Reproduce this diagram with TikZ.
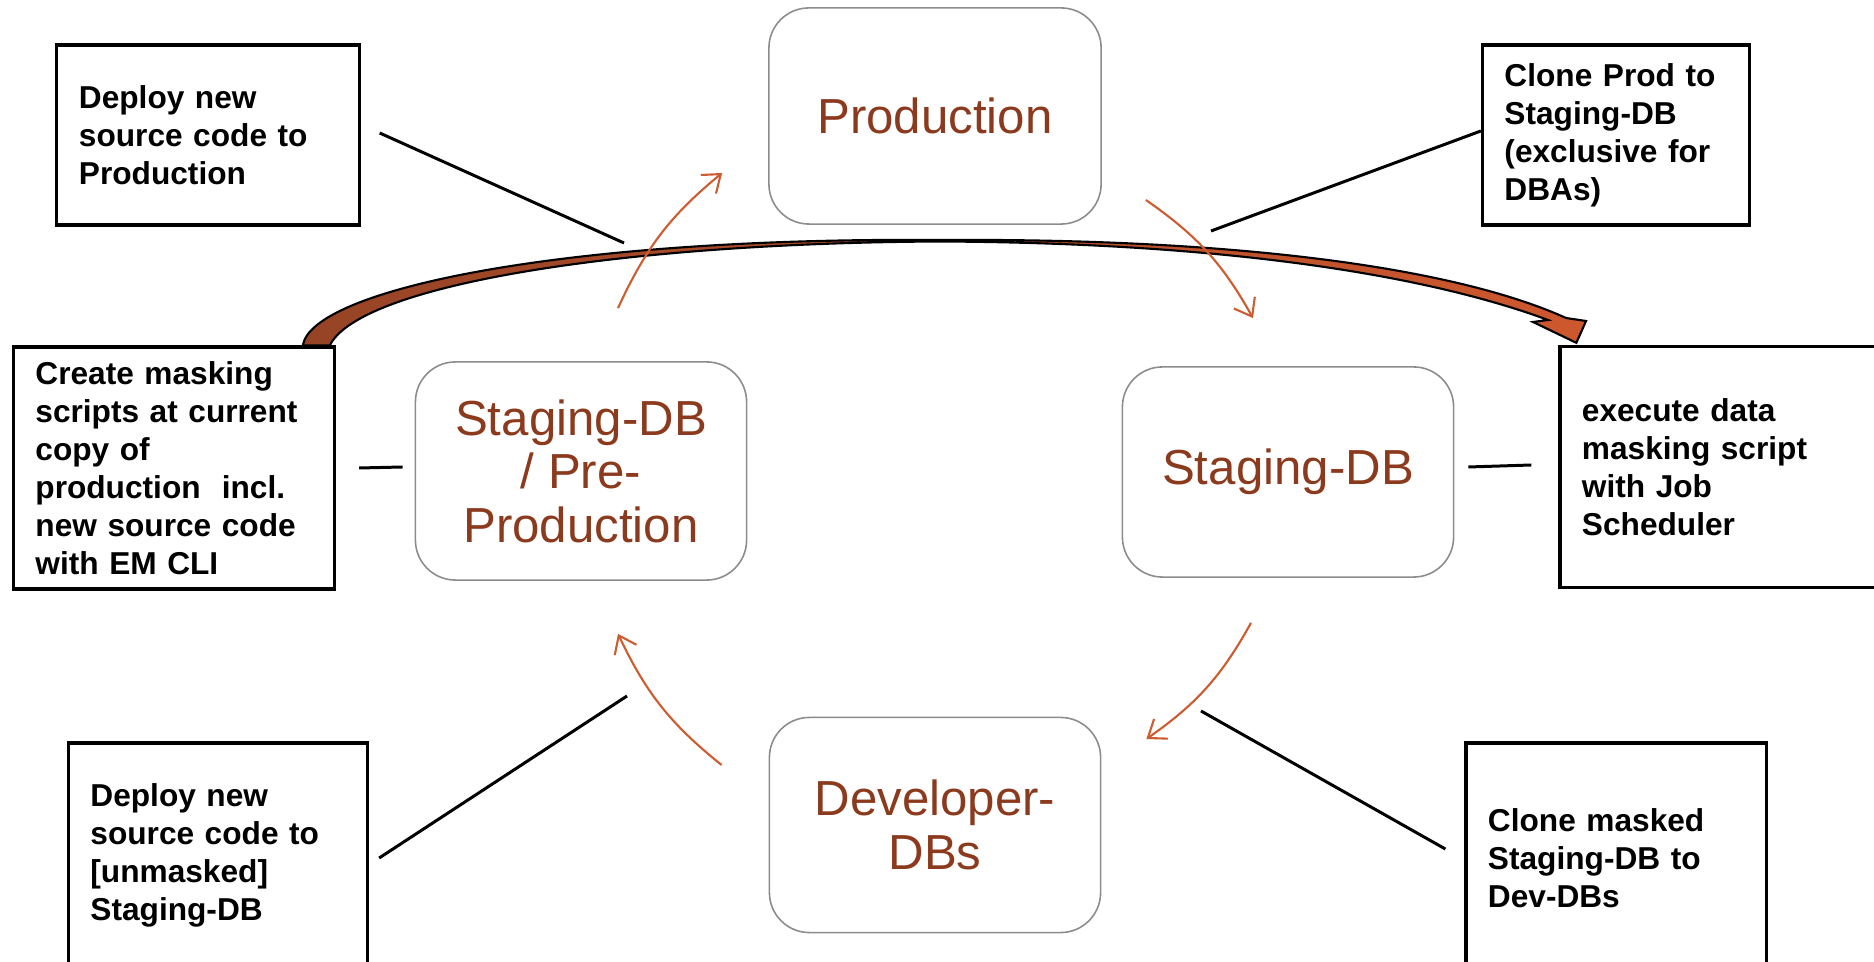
\documentclass[tikz,border=0pt]{standalone}
\usepackage{fontspec}
\setmainfont{Liberation Sans}
\usepackage{tikz}
\usetikzlibrary{arrows.meta,positioning,calc}
\definecolor{stagebrown}{RGB}{140,58,30}
\definecolor{flowor}{RGB}{205,92,48}
\definecolor{swooshdark}{RGB}{150,68,38}
\definecolor{swooshlight}{RGB}{206,88,46}
\tikzset{
  envbox/.style={draw=gray!90, line width=0.45pt, rounded corners=0.4cm, text=stagebrown,
    align=center, inner sep=0pt, font=\fontsize{14}{15.2}\selectfont},
  notebox/.style={draw=black, line width=0.9pt, align=left, inner xsep=0.22cm, inner ysep=0pt,
    font=\fontsize{9}{10.8}\selectfont\bfseries},
  flow/.style={draw=flowor, line width=0.6pt, -{Straight Barb[length=0.16cm,width=0.24cm]}, bend left=13},
  callout/.style={draw=black, line width=0.85pt},
}

\begin{document}
\begin{tikzpicture}[x=0.01cm, y=-0.01cm]
    \useasboundingbox (0,0) rectangle (1874,962);

    % the four databases
    \node [envbox, minimum width=3.32cm, minimum height=2.16cm] (prod) at (935,116) {Production};
    \node [envbox, minimum width=3.31cm, minimum height=2.18cm] (preprod) at (581,471) {Staging-DB\\/ Pre-\\Production};
    \node [envbox, minimum width=3.31cm, minimum height=2.10cm] (staging) at (1288,472) {Staging-DB};
    \node [envbox, minimum width=3.31cm, minimum height=2.15cm] (devdbs) at (935,825) {Developer-\\DBs};

    % the steps
    \node [notebox, text width=2.58cm, minimum height=1.80cm] (deployprod) at (208,135) {Deploy new\\source code to\\Production};
    \node [notebox, text width=2.23cm, minimum height=1.80cm] (cloneprod) at (1616,135) {Clone Prod to\\Staging-DB\\(exclusive for\\DBAs)};
    \node [notebox, text width=2.77cm, minimum height=2.42cm] (masking) at (174,468) {Create masking\\scripts at current\\copy of\\production\ \ incl.\\new source code\\with EM CLI};
    \node [notebox, text width=2.86cm, minimum height=2.41cm] (execute) at (1725,467) {execute data\\masking script\\with Job\\Scheduler};
    \node [notebox, text width=2.55cm, minimum height=2.24cm] (deploystage) at (218,855) {Deploy new\\source code to\\{}[unmasked]\\Staging-DB};
    \node [notebox, text width=2.56cm, minimum height=2.30cm] (clonemasked) at (1616,858) {Clone masked\\Staging-DB to\\Dev-DBs};

    % big arrow from masking to execution
    \coordinate (sw-outer) at ($(masking.north west)+(291,0)$);
    \coordinate (sw-inner) at ($(masking.north west)+(318,0)$);
    \coordinate (sw-tip) at ($(execute.north west)+(18,-2)$);
    \shade [left color=swooshdark, right color=swooshlight, draw=black, line width=0.6pt]
        (sw-outer) .. controls (312,290) and (560,237) .. (940,240)
        .. controls (1250,238) and (1460,270) .. (1566,318)
        -- (1586,321) -- (sw-tip) -- (1533,322) -- (1548,320)
        .. controls (1440,280) and (1250,243) .. (940,241.5)
        .. controls (620,243) and (360,285) .. (sw-inner) -- cycle;

    % callout lines
    \coordinate (c-deployprod) at (624,243);
    \coordinate (c-cloneprod) at (1211,231);
    \coordinate (c-deploystage) at (627,696);
    \coordinate (c-clonemasked) at (1201,711);
    \draw [callout] ($(deployprod.east)+(19,-2)$) -- (c-deployprod);
    \draw [callout] ($(cloneprod.west)+(0,-4)$) -- (c-cloneprod);
    \draw [callout] ($(masking.east)+(23,0)$) -- ($(preprod.west)+(-12,-4)$);
    \draw [callout] ($(staging.east)+(14,-5)$) -- ($(execute.west)+(-27,-2)$);
    \draw [callout] ($(deploystage.east)+(10,3)$) -- (c-deploystage);
    \draw [callout] ($(clonemasked.west)+(-19,-9)$) -- (c-clonemasked);

    % the cycle
    \draw [flow] ($(preprod.north)+(37,-53)$) to ($(prod.west)+(-46,57)$);
    \draw [flow] ($(prod.east)+(44,84)$) to ($(staging.north)+(-35,-48)$);
    \draw [flow] ($(staging.south)+(-37,45)$) to ($(devdbs.east)+(45,-86)$);
    \draw [flow] ($(devdbs.west)+(-47,-60)$) to ($(preprod.south)+(37,53)$);
\end{tikzpicture}
\end{document}
